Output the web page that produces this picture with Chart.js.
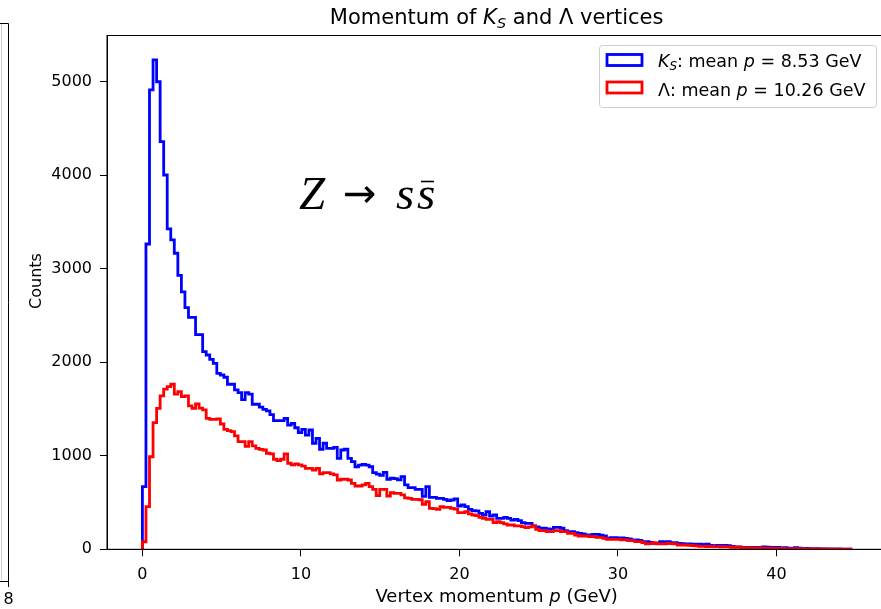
<!DOCTYPE html>
<html>
<head>
<meta charset="utf-8">
<script src="https://cdn.jsdelivr.net/npm/chart.js@4.4.1/dist/chart.umd.min.js"></script>
<style>
  html, body { margin: 0; padding: 0; background: #fff; overflow: hidden; }
  canvas { display: block; }
</style>
</head>
<body>
<canvas id="myChart" width="900" height="609"></canvas>
<script>
// histogram: 200 bins of 0.2235 GeV starting at 0
const binStart = 0;
const binWidth = 0.2235;

const ksCounts = [
  670, 3265, 4913, 5235, 5000, 4360, 4003, 3426, 3308, 3166,
  2930, 2752, 2584, 2481, 2481, 2295, 2295, 2113, 2078, 2032,
  1989, 1882, 1864, 1840, 1765, 1765, 1704, 1675, 1600, 1675,
  1660, 1551, 1551, 1520, 1497, 1480, 1440, 1376, 1376, 1376,
  1401, 1329, 1347, 1300, 1247, 1283, 1222, 1276, 1134, 1187,
  1070, 1134, 1080, 1080, 1090, 973, 1062, 1070, 973, 937,
  883, 901, 908, 901, 883, 819, 805, 790, 823, 749,
  760, 756, 742, 778, 688, 659, 659, 641, 641, 565,
  670, 556, 556, 545, 545, 534, 520, 527, 540, 463,
  474, 456, 428, 414, 410, 385, 367, 403, 356, 367,
  331, 331, 342, 330, 313, 320, 306, 285, 278, 278,
  250, 240, 225, 225, 218, 214, 235, 235, 225, 200,
  189, 189, 178, 171, 165, 153, 153, 160, 160, 150,
  142, 117, 124, 124, 121, 121, 117, 110, 100, 100,
  95, 82, 82, 75, 64, 64, 82, 78, 81, 71,
  71, 64, 60, 57, 57, 54, 54, 54, 50, 54,
  43, 36, 43, 43, 43, 40, 30, 25, 25, 21,
  21, 18, 21, 21, 18, 25, 22, 21, 21, 21,
  15, 18, 12, 10, 18, 12, 8, 10, 6, 5,
  7, 4, 5, 3, 4, 2, 3, 1, 2, 1
];

const lambdaCounts = [
  81, 456, 990, 1354, 1508, 1640, 1714, 1739, 1765, 1660,
  1686, 1632, 1640, 1533, 1508, 1554, 1510, 1490, 1401, 1390,
  1390, 1395, 1340, 1283, 1269, 1258, 1212, 1151, 1151, 1100,
  1151, 1105, 1080, 1069, 1062, 1027, 1020, 963, 949, 963,
  1020, 920, 902, 913, 902, 890, 866, 866, 848, 866,
  806, 820, 820, 806, 795, 741, 749, 749, 741, 706,
  677, 677, 688, 706, 670, 641, 575, 641, 641, 570,
  606, 599, 599, 581, 550, 545, 534, 534, 530, 480,
  509, 438, 435, 428, 456, 449, 449, 438, 430, 392,
  392, 403, 378, 367, 360, 342, 331, 320, 320, 285,
  296, 285, 271, 260, 260, 250, 250, 243, 232, 240,
  250, 214, 200, 200, 189, 189, 200, 200, 189, 189,
  171, 171, 153, 142, 142, 142, 135, 135, 128, 128,
  117, 107, 107, 107, 107, 100, 100, 93, 93, 82,
  82, 71, 57, 60, 71, 57, 57, 57, 64, 60,
  57, 46, 46, 46, 43, 40, 36, 32, 32, 30,
  32, 28, 28, 25, 28, 25, 22, 20, 22, 18,
  14, 15, 14, 12, 14, 12, 10, 12, 10, 8,
  9, 8, 6, 7, 5, 6, 4, 5, 4, 3,
  3, 2, 3, 2, 1, 2, 1, 1, 0, 1
];

const xTicks = [0, 10, 20, 30, 40];
const yTicks = [0, 1000, 2000, 3000, 4000, 5000];
const ksLabel = { mean: '8.53' };
const lambdaLabel = { mean: '10.26' };

const FONT = '"DejaVu Sans", sans-serif';

// step outline as matplotlib histtype='step' draws it
function stepPoints(counts) {
  const pts = [{ x: binStart, y: 0 }];
  counts.forEach((c, i) => pts.push({ x: binStart + i * binWidth, y: c }));
  pts.push({ x: binStart + counts.length * binWidth, y: 0 });
  return pts;
}

// draw a row of text pieces with mixed styles
function drawRuns(ctx, runs, x, y, align) {
  let total = 0;
  runs.forEach(r => { ctx.font = r.font; r.w = ctx.measureText(r.t).width; total += r.w; });
  let cx = align === 'center' ? x - total / 2 : x;
  runs.forEach(r => {
    ctx.font = r.font;
    ctx.fillText(r.t, cx, y + (r.dy || 0));
    cx += r.w;
  });
}

const decor = {
  id: 'decor',
  afterDraw(chart) {
    const { ctx, chartArea: a } = chart;
    ctx.save();
    ctx.strokeStyle = '#000';
    ctx.lineWidth = 1;
    ctx.strokeRect(a.left, a.top + 0.5, a.right - a.left, a.bottom - a.top - 0.5);

    ctx.fillStyle = '#000';
    ctx.textBaseline = 'alphabetic';
    const mid = (a.left + a.right) / 2;

    // title
    drawRuns(ctx, [
      { t: 'Momentum of ', font: '21px ' + FONT },
      { t: 'K', font: 'italic 21px ' + FONT },
      { t: 'S', font: 'italic 14.5px ' + FONT, dy: 4 },
      { t: ' and Λ vertices', font: '21px ' + FONT }
    ], mid, 24, 'center');

    const n = '18px ' + FONT, it = 'italic 18px ' + FONT;

    // x axis title
    drawRuns(ctx, [
      { t: 'Vertex momentum ', font: n },
      { t: 'p', font: it },
      { t: ' (GeV)', font: n }
    ], mid, 602, 'center');

    // y axis title, cut off by the neighbouring panel
    ctx.save();
    ctx.beginPath();
    ctx.rect(28, 0, 60, 609);
    ctx.clip();
    ctx.translate(41, 281);
    ctx.rotate(-Math.PI / 2);
    ctx.font = '16px ' + FONT;
    ctx.textAlign = 'center';
    ctx.fillText('Counts', 0, 0);
    ctx.restore();

    // legend
    const ln = '17.5px ' + FONT, lit = 'italic 17.5px ' + FONT, lsub = 'italic 12px ' + FONT;
    const lx = 599.5, ly = 45.5, lw = 277, lh = 62;
    ctx.fillStyle = 'rgba(255,255,255,0.8)';
    ctx.strokeStyle = '#cccccc';
    ctx.lineWidth = 1;
    ctx.beginPath();
    ctx.roundRect(lx, ly, lw, lh, 3);
    ctx.fill();
    ctx.stroke();
    ctx.lineWidth = 2.8;
    ctx.strokeStyle = '#0000ff';
    ctx.strokeRect(607, 54.5, 35, 11);
    ctx.strokeStyle = '#ff0000';
    ctx.strokeRect(607, 82, 35, 11);
    ctx.fillStyle = '#000';
    drawRuns(ctx, [
      { t: 'K', font: lit },
      { t: 'S', font: lsub, dy: 3.5 },
      { t: ': mean ', font: ln },
      { t: 'p', font: lit },
      { t: ' = ' + ksLabel.mean + ' GeV', font: ln }
    ], 658, 66.5, 'left');
    drawRuns(ctx, [
      { t: 'Λ: mean ', font: ln },
      { t: 'p', font: lit },
      { t: ' = ' + lambdaLabel.mean + ' GeV', font: ln }
    ], 658, 95.5, 'left');

    // annotation Z -> s sbar
    const serif = 'italic 47px "Liberation Serif", serif';
    ctx.font = serif;
    ctx.fillText('Z', 299, 209);
    ctx.font = '40px "DejaVu Sans", sans-serif';
    ctx.fillText('→', 343, 207);
    ctx.font = serif;
    ctx.fillText('s', 396, 209);
    ctx.fillText('s', 417, 209);
    ctx.lineWidth = 1.6;
    ctx.strokeStyle = '#000';
    ctx.beginPath();
    ctx.moveTo(421, 181.5);
    ctx.lineTo(434, 181.5);
    ctx.stroke();

    // edge of the neighbouring panel on the left
    ctx.strokeStyle = '#000';
    ctx.lineWidth = 1;
    ctx.beginPath();
    ctx.moveTo(0, 23.5); ctx.lineTo(8.5, 23.5); ctx.lineTo(8.5, 581.5); ctx.lineTo(0, 581.5);
    ctx.moveTo(8.5, 581.5); ctx.lineTo(8.5, 587);
    ctx.stroke();
    ctx.strokeStyle = '#d0d0d0';
    ctx.beginPath();
    ctx.moveTo(1.5, 24); ctx.lineTo(1.5, 580);
    ctx.stroke();
    ctx.fillStyle = '#000';
    ctx.font = '16px ' + FONT;
    ctx.textAlign = 'center';
    ctx.fillText('8', 8.5, 604);
    ctx.restore();
  }
};

const ctx = document.getElementById('myChart').getContext('2d');

const myChart = new Chart(ctx, { //eslint-disable-line
  type: 'line',
  data: {
    datasets: [
      {
        label: 'KS',
        data: stepPoints(ksCounts),
        borderColor: '#0000ff',
        borderWidth: 2.8,
        stepped: 'before',
        fill: false,
        order: 2
      },
      {
        label: 'Lambda',
        data: stepPoints(lambdaCounts),
        borderColor: '#ff0000',
        borderWidth: 2.8,
        stepped: 'before',
        fill: false,
        order: 1
      }
    ]
  },
  options: {
    responsive: false,
    animation: false,
    layout: { padding: { top: 35, right: 13.7, left: 0, bottom: 0 } },
    elements: { point: { radius: 0 } },
    plugins: {
      legend: { display: false },
      title: { display: false },
      tooltip: { enabled: false }
    },
    scales: {
      x: {
        type: 'linear',
        min: -2.235,
        max: 46.935,
        afterFit: s => { s.height = 59.7; },
        afterBuildTicks: s => { s.ticks = xTicks.map(v => ({ value: v })); },
        grid: { drawOnChartArea: false, tickLength: 7, color: '#000' },
        border: { color: '#000' },
        ticks: { padding: 9, color: '#000', font: { size: 16, family: FONT }, maxRotation: 0, callback: v => String(v) }
      },
      y: {
        min: 0,
        max: 5500,
        afterFit: s => { s.width = 107; },
        afterBuildTicks: s => { s.ticks = yTicks.map(v => ({ value: v })); },
        grid: { drawOnChartArea: false, tickLength: 7, color: '#000' },
        border: { color: '#000' },
        ticks: { padding: 8, color: '#000', font: { size: 16, family: FONT }, callback: v => String(v) }
      }
    }
  },
  plugins: [decor]
});
</script>
</body>
</html>
